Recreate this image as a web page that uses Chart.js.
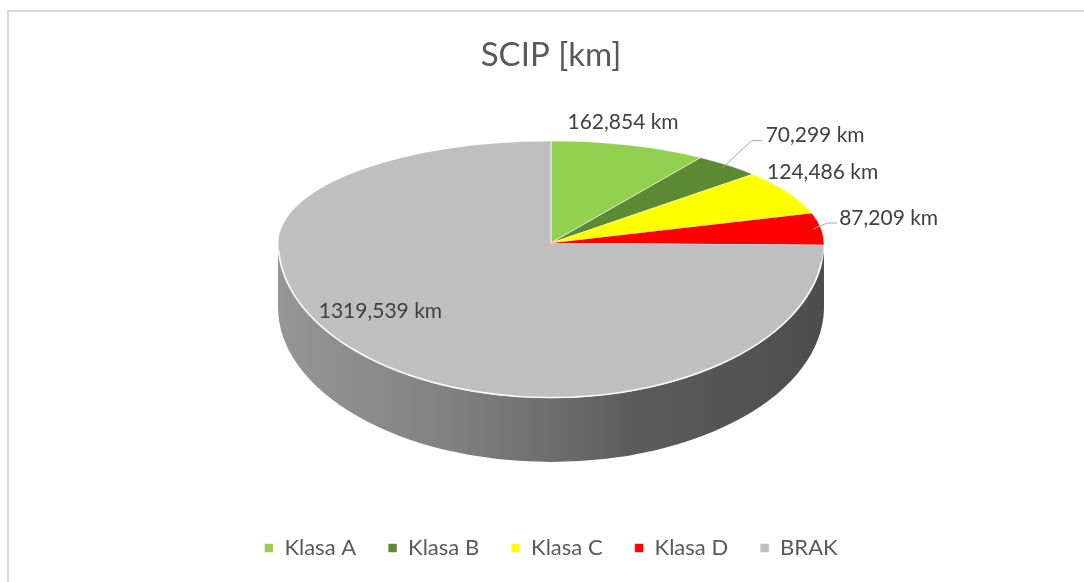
<!DOCTYPE html>
<html>
<head>
<meta charset="utf-8">
<script src="https://cdn.jsdelivr.net/npm/chart.js@4/dist/chart.umd.min.js"></script>
<style>
  html, body { margin: 0; padding: 0; background: #fff; overflow: hidden; }
  .frame {
    position: absolute; left: 7px; top: 10px;
    width: 1090px; height: 580px;
    border-left: 2px solid #d9d9d9; border-top: 2px solid #d9d9d9;
  }
  canvas { display: block; }
</style>
</head>
<body>
<div class="frame"><canvas id="pieChart" width="1084" height="570"></canvas></div>
<script>
// Data
const categories = ['Klasa A', 'Klasa B', 'Klasa C', 'Klasa D', 'BRAK'];
const lengthsKm = [162.854, 70.299, 124.486, 87.209, 1319.539];
const sliceColors = ['#92d050', '#5b8a32', '#ffff00', '#ff0000', '#bfbfbf'];
const sideColors = ['#6f9e3c', '#446a25', '#c8c800', '#c00000', null];

// 3D look (canvas coords)
const CX = 542, AY = 231, RX = 273, RY_BACK = 102, RY_FRONT = 155, DEPTH = 64;

// label placement relative to slice edge
const labelLayout = [
    { f: 1, dx: -6, dy: -23, align: 'center' },
    { f: 0.97, dx: 43, dy: -32, align: 'left', leader: [[29, -27], [39, -27]] },
    { f: 1, dx: -21, dy: -20, align: 'left' },
    { f: 0.97, dx: 26, dy: -11, align: 'left', leader: [[14, -6], [24, -6]] },
    { f: 0.6, dx: -54, dy: 3, align: 'center' }
];

const FONT = "Lato, 'Open Sans', sans-serif";

function fmtKm(v) {
    return v.toFixed(3).replace('.', ',') + ' km';
}

function proj(angle, f) {
    const ry = Math.sin(angle) < 0 ? RY_BACK : RY_FRONT;
    return [CX + RX * f * Math.cos(angle), AY + ry * f * Math.sin(angle)];
}

function setHalf(ctx, arc, ry) {
    const R = arc.outerRadius;
    ctx.translate(CX, AY);
    ctx.scale(RX / R, ry / R);
    ctx.translate(-arc.x, -arc.y);
}

const pie3d = {
    id: 'pie3d',
    beforeDatasetsDraw(chart) {
        const ctx = chart.ctx;
        const arcs = chart.getDatasetMeta(0).data;
        if (!arcs.length) return;

        // side wall, front half only
        const grad = ctx.createLinearGradient(CX - RX, 0, CX + RX, 0);
        grad.addColorStop(0, '#969696');
        grad.addColorStop(0.3, '#828282');
        grad.addColorStop(0.45, '#737373');
        grad.addColorStop(0.65, '#5c5c5c');
        grad.addColorStop(1, '#4d4d4d');
        arcs.forEach((a, i) => {
            const a1 = Math.max(a.startAngle, 0);
            const a2 = Math.min(a.endAngle, Math.PI);
            if (a2 <= a1) return;
            ctx.save();
            ctx.beginPath();
            ctx.ellipse(CX, AY, RX, RY_FRONT, 0, a1, a2);
            ctx.ellipse(CX, AY + DEPTH, RX, RY_FRONT, 0, a2, a1, true);
            ctx.closePath();
            ctx.fillStyle = sideColors[i] || grad;
            ctx.fill();
            ctx.restore();
        });

        // back half of top
        ctx.save();
        ctx.beginPath();
        ctx.rect(0, 0, chart.width, AY + 0.5);
        ctx.clip();
        setHalf(ctx, arcs[0], RY_BACK);
        arcs.forEach(a => a.draw(ctx));
        ctx.restore();

        // front half: library draws it next
        ctx.save();
        ctx.beginPath();
        ctx.rect(0, AY - 0.5, chart.width, chart.height);
        ctx.clip();
        setHalf(ctx, arcs[0], RY_FRONT);
    },
    afterDatasetsDraw(chart) {
        const ctx = chart.ctx;
        ctx.restore();
        const arcs = chart.getDatasetMeta(0).data;

        // rim highlight
        ctx.save();
        ctx.beginPath();
        ctx.ellipse(CX, AY, RX - 0.5, RY_FRONT - 0.5, 0, 0.12, Math.PI - 0.05);
        ctx.strokeStyle = 'rgba(255,255,255,0.85)';
        ctx.lineWidth = 1.5;
        ctx.stroke();
        ctx.restore();

        // labels
        ctx.save();
        ctx.font = '21px ' + FONT;
        ctx.fillStyle = '#404040';
        ctx.textBaseline = 'middle';
        arcs.forEach((a, i) => {
            const L = labelLayout[i];
            const mid = (a.startAngle + a.endAngle) / 2;
            const [x, y] = proj(mid, L.f);
            if (L.leader) {
                ctx.beginPath();
                ctx.moveTo(x, y);
                L.leader.forEach(p => ctx.lineTo(x + p[0], y + p[1]));
                ctx.strokeStyle = '#a6a6a6';
                ctx.lineWidth = 1;
                ctx.stroke();
            }
            ctx.textAlign = L.align;
            ctx.fillText(fmtKm(lengthsKm[i]), x + L.dx, y + L.dy);
        });
        ctx.restore();
    }
};

const chart = new Chart(document.getElementById('pieChart'), {
    type: 'pie',
    data: {
        labels: categories,
        datasets: [{
            data: lengthsKm,
            backgroundColor: sliceColors,
            borderColor: 'rgba(255,255,255,0.55)',
            borderWidth: 1,
            clip: false
        }]
    },
    options: {
        responsive: false,
        animation: false,
        layout: { padding: { bottom: 13 } },
        plugins: {
            title: {
                display: true,
                text: 'SCIP [km]',
                color: '#595959',
                font: { family: FONT, size: 33, weight: 'normal' },
                padding: { top: 24, bottom: 10 }
            },
            legend: {
                position: 'bottom',
                labels: {
                    color: '#595959',
                    font: { family: FONT, size: 22 },
                    boxWidth: 9,
                    boxHeight: 9,
                    padding: 32
                }
            },
            tooltip: { enabled: false }
        }
    },
    plugins: [pie3d]
});
</script>
</body>
</html>
